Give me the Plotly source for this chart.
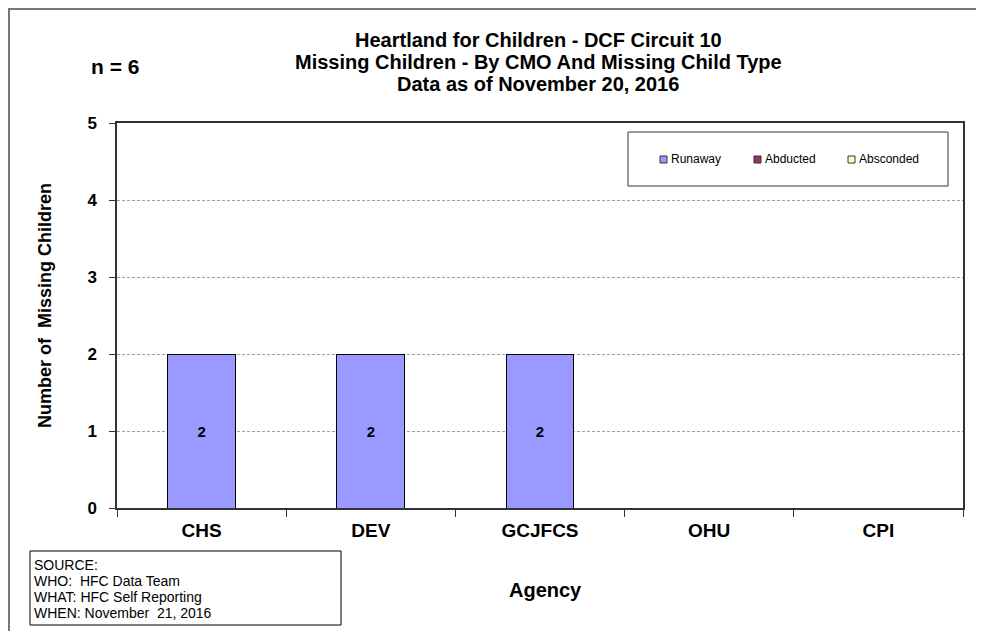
import plotly.graph_objects as go

agencies = ["CHS", "DEV", "GCJFCS", "OHU", "CPI"]
runaway = [2, 2, 2, 0, 0]
abducted = [0, 0, 0, 0, 0]
absconded = [0, 0, 0, 0, 0]
series_names = ["Runaway", "Abducted", "Absconded"]
series_colors = ["#9999FF", "#993366", "#FFFFCC"]
y_ticks = [0, 1, 2, 3, 4, 5]
n_total = sum(runaway) + sum(abducted) + sum(absconded)

# page is drawn with an 8px body margin; work in page pixel coordinates
OFF = 8
W, H = 984 - 2 * OFF, 631 - OFF
PL, PR, PT, PB = 117, 963, 123, 508          # plot area in page px
L, R, T, B = PL - OFF, W - (PR - OFF), PT - OFF, H - (PB - OFF)
PW, PH = W - L - R, H - T - B


def px(x):
    return (x - OFF - L) / PW


def py(y):
    return 1 - (y - OFF - T) / PH


FONT = "Arial, Liberation Sans, sans-serif"

fig = go.Figure()
for name, vals, col in zip(series_names, [runaway, abducted, absconded], series_colors):
    fig.add_trace(go.Bar(
        x=agencies, y=vals, name=name,
        marker=dict(color=col, line=dict(color="#000000", width=1)),
        text=[str(v) if v else "" for v in vals],
        textposition="inside", insidetextanchor="middle",
        textfont=dict(family=FONT, size=15, color="#000000", weight="bold"),
        width=0.4, showlegend=False,
    ))

fig.update_layout(
    width=W, height=H,
    barmode="stack",
    margin=dict(l=L, r=R, t=T, b=B, autoexpand=False),
    paper_bgcolor="white", plot_bgcolor="white",
    font=dict(family=FONT, color="#000000"),
    showlegend=False,
    xaxis=dict(
        type="category", tickson="boundaries", ticks="outside", ticklen=7,
        tickcolor="#333333", showline=True, linecolor="#333333", linewidth=1.5,
        mirror=True, showgrid=False, ticklabelstandoff=4,
        tickfont=dict(family=FONT, size=19, weight="bold"),
    ),
    yaxis=dict(
        range=[0, 5], tickvals=y_ticks, ticks="outside", ticklen=6,
        tickcolor="#333333", showline=True, linecolor="#333333", linewidth=1.5,
        mirror=True, showgrid=True, gridcolor="#a0a0a0", griddash="3px,2px", gridwidth=1,
        zeroline=False, ticklabelstandoff=9,
        tickfont=dict(family=FONT, size=17, weight="bold"),
    ),
)

title_lines = ["Heartland for Children - DCF Circuit 10",
               "Missing Children - By CMO And Missing Child Type",
               "Data as of November 20, 2016"]
for i, line in enumerate(title_lines):
    fig.add_annotation(
        text=line, xref="paper", yref="paper",
        x=px(538), y=py(40 + 22 * i), xanchor="center", yanchor="middle", showarrow=False,
        font=dict(family=FONT, size=20, weight="bold"),
    )
fig.add_annotation(
    text=f"n = {n_total}", xref="paper", yref="paper",
    x=px(115), y=py(67), xanchor="center", yanchor="middle", showarrow=False,
    font=dict(family=FONT, size=21, weight="bold"),
)
fig.add_annotation(
    text="Number of  Missing Children", xref="paper", yref="paper",
    x=px(45), y=py(306), xanchor="center", yanchor="middle", showarrow=False,
    textangle=-90, font=dict(family=FONT, size=18, weight="bold"),
)
fig.add_annotation(
    text="Agency", xref="paper", yref="paper",
    x=px(545), y=py(590), xanchor="center", yanchor="middle", showarrow=False,
    font=dict(family=FONT, size=20, weight="bold"),
)
source_lines = ["SOURCE:", "WHO:  HFC Data Team", "WHAT: HFC Self Reporting",
                "WHEN: November  21, 2016"]
for i, line in enumerate(source_lines):
    fig.add_annotation(
        text=line, xref="paper", yref="paper",
        x=px(32), y=py(565 + 16 * i), xanchor="left", yanchor="middle",
        showarrow=False, align="left",
        font=dict(family=FONT, size=14),
    )
# source box
fig.add_shape(type="rect", xref="paper", yref="paper",
              x0=px(30), x1=px(341), y0=py(551), y1=py(625),
              line=dict(color="#000000", width=1))
# legend box and entries
fig.add_shape(type="rect", xref="paper", yref="paper",
              x0=px(628), x1=px(948), y0=py(132), y1=py(186),
              line=dict(color="#333333", width=1))
legend_x = [660, 754, 848]
for name, col, lx in zip(series_names, series_colors, legend_x):
    fig.add_shape(type="rect", xref="paper", yref="paper",
                  x0=px(lx), x1=px(lx + 7), y0=py(156), y1=py(163),
                  fillcolor=col, line=dict(color="#333333", width=1))
    fig.add_annotation(
        text=name, xref="paper", yref="paper",
        x=px(lx + 9), y=py(159), xanchor="left", yanchor="middle", showarrow=False,
        font=dict(family=FONT, size=12),
    )
# outer chart border (top and left edges)
fig.add_shape(type="line", xref="paper", yref="paper",
              x0=px(OFF), x1=px(984), y0=py(OFF + 1), y1=py(OFF + 1),
              line=dict(color="#777777", width=2))
fig.add_shape(type="line", xref="paper", yref="paper",
              x0=px(OFF + 1), x1=px(OFF + 1), y0=py(OFF), y1=py(640),
              line=dict(color="#777777", width=2))

fig.write_html("out.html")
